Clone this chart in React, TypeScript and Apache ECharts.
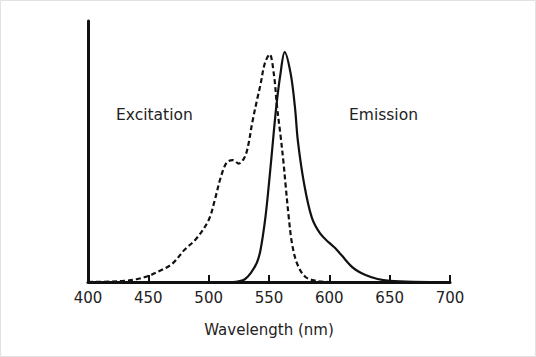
import React, { useEffect, useRef } from "react";
import * as echarts from "echarts";

const excitationX = [400, 420, 430, 440, 450, 460, 470, 480, 490, 500, 505, 510, 515, 520, 525, 530, 533, 536, 540, 543, 546.5, 550.5, 554, 556.7, 559.5, 562, 563.6, 566.4, 569, 573.3, 580, 589, 600];
const excitationY = [0, 0.002, 0.005, 0.012, 0.026, 0.05, 0.08, 0.14, 0.19, 0.27, 0.355, 0.455, 0.52, 0.53, 0.515, 0.545, 0.6, 0.69, 0.79, 0.86, 0.95, 0.99, 0.905, 0.76, 0.64, 0.52, 0.43, 0.28, 0.17, 0.08, 0.023, 0.005, 0];

const emissionX = [500, 520, 525, 530, 535, 540, 543, 547, 550, 552, 556, 559.5, 563, 568, 571.5, 574, 579, 585.5, 592.5, 600, 605, 610, 620, 630, 640, 650, 670, 700];
const emissionY = [0, 0, 0.003, 0.012, 0.04, 0.085, 0.14, 0.28, 0.43, 0.54, 0.76, 0.905, 1.0, 0.905, 0.76, 0.61, 0.43, 0.28, 0.21, 0.17, 0.147, 0.117, 0.06, 0.03, 0.013, 0.005, 0.001, 0];

const xTicks = [400, 450, 500, 550, 600, 650, 700];
const xTitle = "Wavelength (nm)";
const excitationLabel = "Excitation";
const emissionLabel = "Emission";

const FONT = "DejaVu Sans";

export default function App() {
  const ref = useRef<HTMLDivElement>(null);
  useEffect(() => {
    if (!ref.current) return;
    const chart = echarts.init(ref.current, null, { renderer: "svg" });
    chart.setOption({
      animation: false,
      backgroundColor: "#ffffff",
      grid: { left: 88, right: 86, top: 21, bottom: 75, containLabel: false },
      xAxis: {
        type: "value",
        min: xTicks[0],
        max: xTicks[xTicks.length - 1],
        interval: 50,
        name: xTitle,
        nameLocation: "middle",
        nameGap: 40,
        nameTextStyle: { fontFamily: FONT, fontSize: 15, color: "#222" },
        axisLine: { show: true, onZero: false, lineStyle: { color: "#111", width: 3 } },
        axisTick: { show: true, inside: true, length: 7, lineStyle: { color: "#111", width: 2 } },
        axisLabel: { fontFamily: FONT, fontSize: 15, color: "#222", margin: 8 },
        splitLine: { show: false },
      },
      yAxis: {
        type: "value",
        min: 0,
        max: 1.135,
        axisLine: { show: true, lineStyle: { color: "#111", width: 3 } },
        axisTick: { show: false },
        axisLabel: { show: false },
        splitLine: { show: false },
      },
      series: [
        {
          type: "line",
          name: excitationLabel,
          data: excitationX.map((x, i) => [x, excitationY[i]]),
          smooth: 0.35,
          symbol: "none",
          lineStyle: { color: "#111", width: 2.2, type: [5, 3] },
          z: 3,
        },
        {
          type: "line",
          name: emissionLabel,
          data: emissionX.map((x, i) => [x, emissionY[i]]),
          smooth: 0.35,
          symbol: "none",
          lineStyle: { color: "#111", width: 2.2 },
          z: 3,
        },
      ],
      graphic: [
        {
          type: "rect",
          shape: { x: 0.5, y: 0.5, width: 535, height: 356 },
          style: { fill: "none", stroke: "#e2e2e2", lineWidth: 1 },
          silent: true,
        },
        {
          type: "text",
          left: 116,
          top: 107,
          style: { text: excitationLabel, font: `15.5px "${FONT}"`, fill: "#222" },
        },
        {
          type: "text",
          left: 349,
          top: 107,
          style: { text: emissionLabel, font: `15.5px "${FONT}"`, fill: "#222" },
        },
      ],
    });
    return () => chart.dispose();
  }, []);
  return (
    <div style={{ position: "fixed", left: 0, top: 0, width: 536, height: 357 }}>
      <div ref={ref} style={{ width: 536, height: 357 }} />
    </div>
  );
}
